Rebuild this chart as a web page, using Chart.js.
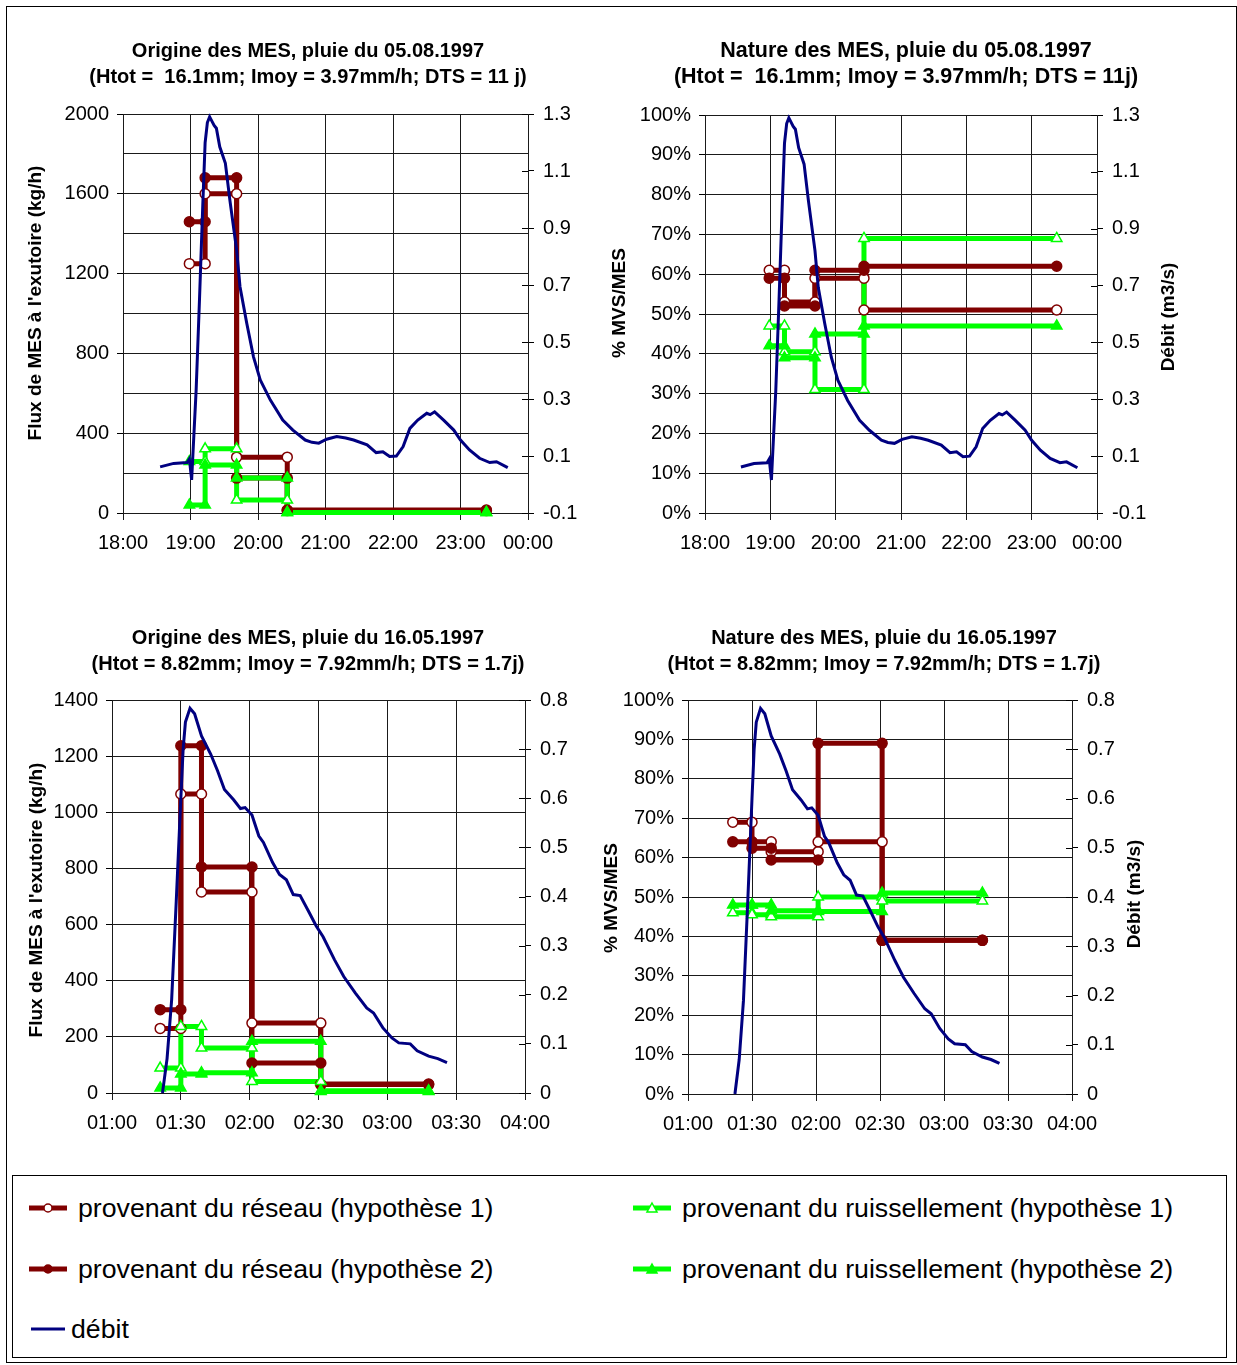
<!DOCTYPE html>
<html>
<head>
<meta charset="utf-8">
<script src="https://cdn.jsdelivr.net/npm/chart.js@4.4.1/dist/chart.umd.min.js"></script>
<style>
  body { margin: 0; width: 1237px; height: 1365px; background: #fff; position: relative;
         font-family: 'Liberation Sans', Arial, sans-serif; }
  #frame { position: absolute; left: 6px; top: 6px; width: 1231px; height: 1357px;
           border: 1px solid #000; box-sizing: border-box; }
  canvas { position: absolute; }
  #legend { position: absolute; left: 12px; top: 1175px; width: 1215px; height: 183px;
            border: 1px solid #000; box-sizing: border-box; }
  .item { position: absolute; display: flex; align-items: center; height: 40px;
          font-size: 26.7px; white-space: nowrap; color: #000; }
  .item span { margin-left: 11px; }
</style>
</head>
<body>
<div id="frame"></div>
<canvas id="c1" width="616" height="580" style="left:0px;top:0px"></canvas>
<canvas id="c2" width="612" height="580" style="left:600px;top:0px"></canvas>
<canvas id="c3" width="616" height="573" style="left:0px;top:587px"></canvas>
<canvas id="c4" width="584" height="573" style="left:592px;top:587px"></canvas>

<div id="legend">
  <div class="item" style="left:16px;top:12px">
    <svg width="38" height="14"><line x1="0" y1="7" x2="38" y2="7" stroke="#800000" stroke-width="5"/><circle cx="19" cy="7" r="4" fill="#fff" stroke="#800000" stroke-width="1.5"/></svg>
    <span>provenant du réseau (hypothèse 1)</span>
  </div>
  <div class="item" style="left:16px;top:73px">
    <svg width="38" height="14"><line x1="0" y1="7" x2="38" y2="7" stroke="#800000" stroke-width="5"/><circle cx="19" cy="7" r="4" fill="#800000" stroke="#800000" stroke-width="1.5"/></svg>
    <span>provenant du réseau (hypothèse 2)</span>
  </div>
  <div class="item" style="left:18px;top:133px">
    <svg width="34" height="14"><line x1="0" y1="7" x2="34" y2="7" stroke="#000080" stroke-width="3"/></svg>
    <span style="margin-left:6px">débit</span>
  </div>
  <div class="item" style="left:620px;top:12px">
    <svg width="38" height="14"><line x1="0" y1="7" x2="38" y2="7" stroke="#00ff00" stroke-width="5"/><polygon points="19,2 24,11 14,11" fill="#fff" stroke="#00ff00" stroke-width="1.5"/></svg>
    <span>provenant du ruissellement (hypothèse 1)</span>
  </div>
  <div class="item" style="left:620px;top:73px">
    <svg width="38" height="14"><line x1="0" y1="7" x2="38" y2="7" stroke="#00ff00" stroke-width="5"/><polygon points="19,2 24,11 14,11" fill="#00ff00" stroke="#00ff00" stroke-width="1.5"/></svg>
    <span>provenant du ruissellement (hypothèse 2)</span>
  </div>
</div>

<script>
// --- pluie du 05.08.1997 : bornes des intervalles d'hypothèse
const times1 = ['18:59', '19:13', '19:41', '20:26', '23:23'];
// origine des MES (kg/h)
const reseauH1_orig1 = [1250, 1600, 280, 15];
const reseauH2_orig1 = [1460, 1680, 175, 12];
const ruissH1_orig1 = [258, 322, 65, 3];
const ruissH2_orig1 = [40, 240, 175, 2];
// nature des MES (% MVS/MES)
const reseauH1_nat1 = [61, 53, 59, 51];
const reseauH2_nat1 = [59, 52, 61, 62];
const ruissH1_nat1 = [47, 40.5, 31, 69];
const ruissH2_nat1 = [42, 39, 45, 47];
// débit (m3/s)
const debit1 = [
  ['18:33', 0.062], ['18:45', 0.074], ['18:57', 0.077], ['18:59', 0.09], ['19:01', 0.016],
  ['19:05', 0.33], ['19:08', 0.65], ['19:11', 0.99], ['19:13', 1.2], ['19:15', 1.27],
  ['19:17', 1.29], ['19:19', 1.275], ['19:21', 1.26], ['19:23', 1.25], ['19:26', 1.185],
  ['19:31', 1.127], ['19:35', 0.998], ['19:41', 0.823], ['19:44', 0.694], ['19:50', 0.566],
  ['19:56', 0.448], ['20:02', 0.367], ['20:11', 0.296], ['20:22', 0.226], ['20:31', 0.191],
  ['20:42', 0.156], ['20:48', 0.148], ['20:54', 0.145], ['21:01', 0.159], ['21:10', 0.168],
  ['21:18', 0.163], ['21:25', 0.156], ['21:37', 0.139], ['21:45', 0.112], ['21:51', 0.115],
  ['21:57', 0.098], ['22:03', 0.1], ['22:09', 0.133], ['22:15', 0.197], ['22:22', 0.226],
  ['22:30', 0.25], ['22:33', 0.245], ['22:37', 0.255], ['22:45', 0.226], ['22:54', 0.191],
  ['23:00', 0.156], ['23:08', 0.121], ['23:17', 0.092], ['23:26', 0.077], ['23:32', 0.08],
  ['23:42', 0.059]
];

// --- pluie du 16.05.1997
const times2 = ['01:21', '01:30', '01:39', '02:01', '02:31', '03:18'];
const reseauH1_orig2 = [230, 1065, 716, 249, 30];
const reseauH2_orig2 = [297, 1237, 805, 107, 32];
const ruissH1_orig2 = [89, 237, 160, 41, 8];
const ruissH2_orig2 = [18, 68, 72, 184, 5];
const reseauH1_nat2 = [69, 64, 61.5, 64, 39];
const reseauH2_nat2 = [64, 62.4, 59.4, 89, 39];
const ruissH1_nat2 = [46, 45.5, 45, 50, 49];
const ruissH2_nat2 = [48, 48, 46.5, 46.3, 51];
const debit2 = [
  ['01:22', 0.0], ['01:24', 0.07], ['01:26', 0.19], ['01:28', 0.39], ['01:30', 0.6],
  ['01:31', 0.7], ['01:32', 0.755], ['01:34', 0.783], ['01:36', 0.772], ['01:39', 0.727],
  ['01:43', 0.69], ['01:46', 0.656], ['01:49', 0.618], ['01:53', 0.597], ['01:56', 0.579],
  ['01:58', 0.581], ['02:01', 0.566], ['02:04', 0.523], ['02:06', 0.51], ['02:10', 0.469],
  ['02:13', 0.445], ['02:16', 0.434], ['02:19', 0.404], ['02:22', 0.402], ['02:26', 0.367],
  ['02:29', 0.34], ['02:32', 0.318], ['02:37', 0.271], ['02:41', 0.237], ['02:46', 0.204],
  ['02:51', 0.173], ['02:54', 0.163], ['02:58', 0.133], ['03:02', 0.112], ['03:05', 0.102],
  ['03:10', 0.1], ['03:13', 0.086], ['03:18', 0.075], ['03:22', 0.07], ['03:26', 0.062]
];

const RED = '#800000';
const GREEN = '#00ff00';
const NAVY = '#000080';
const GRID = '#1a1a1a';
const FONT = "'Liberation Sans', Arial, sans-serif";

Chart.defaults.font.family = FONT;
Chart.defaults.font.size = 20;
Chart.defaults.color = '#000';

const toHours = (t) => {
  const [h, m] = t.split(':').map(Number);
  return h + m / 60;
};
const fmtTime = (v) => {
  const h = Math.floor(v + 1e-9);
  const m = Math.round((v - h) * 60);
  return String(h % 24).padStart(2, '0') + ':' + String(m).padStart(2, '0');
};

// one value per interval -> vertices of the step line
const stepPoints = (times, values) => {
  const pts = [];
  values.forEach((v, i) => {
    pts.push({ x: toHours(times[i]), y: v });
    pts.push({ x: toHours(times[i + 1]), y: v });
  });
  return pts;
};

// vertical axis titles (read bottom to top) + inner half of the right-axis ticks
const sideTitles = {
  id: 'sideTitles',
  afterDraw(chart, args, opts) {
    const ctx = chart.ctx;
    ctx.save();
    const y2 = chart.scales.y2;
    ctx.strokeStyle = '#000';
    ctx.lineWidth = 1;
    ctx.beginPath();
    for (const t of y2.ticks) {
      const py = Math.round(y2.getPixelForValue(t.value)) + 0.5;
      ctx.moveTo(chart.chartArea.right - 6, py);
      ctx.lineTo(chart.chartArea.right, py);
    }
    ctx.stroke();

    ctx.font = 'bold 19px ' + FONT;
    ctx.fillStyle = '#000';
    ctx.textAlign = 'center';
    ctx.textBaseline = 'middle';
    for (const t of opts.items || []) {
      ctx.save();
      ctx.translate(t.x, t.y);
      ctx.rotate(-Math.PI / 2);
      ctx.fillText(t.text, 0, 0);
      ctx.restore();
    }
    ctx.restore();
  }
};

function buildDatasets(times, r1, r2, s1, s2, debit) {
  const series = [
    { data: r1, color: RED, style: 'circle', open: true, radius: 5 },
    { data: r2, color: RED, style: 'circle', open: false, radius: 5 },
    { data: s1, color: GREEN, style: 'triangle', open: true, radius: 6 },
    { data: s2, color: GREEN, style: 'triangle', open: false, radius: 6 }
  ];
  const ds = [];
  ds.push({
    label: 'débit',
    data: debit.map(([t, v]) => ({ x: toHours(t), y: v })),
    yAxisID: 'y2',
    borderColor: NAVY,
    borderWidth: 3,
    pointRadius: 0,
    order: 0
  });
  series.forEach((s, i) => {
    const pts = stepPoints(times, s.data);
    // lines first (later series on top), markers above every line
    ds.push({
      data: pts,
      yAxisID: 'y',
      borderColor: s.color,
      borderWidth: 5,
      pointRadius: 0,
      order: 30 - i
    });
    ds.push({
      data: pts,
      yAxisID: 'y',
      showLine: false,
      pointStyle: s.style,
      pointRadius: s.radius,
      pointBorderWidth: 1.5,
      pointBorderColor: s.color,
      pointBackgroundColor: s.open ? '#fff' : s.color,
      order: 20 - i
    });
  });
  return ds;
}

function makePanel(id, p) {
  const canvas = document.getElementById(id);
  const left = parseFloat(canvas.style.left);
  const top = parseFloat(canvas.style.top);
  const leftW = p.area.l - left;
  const rightW = left + canvas.width - p.area.r;
  const titleGap = p.area.t - top - 38 - 52;
  const xH = top + canvas.height - p.area.b;

  new Chart(canvas.getContext('2d'), {
    type: 'line',
    data: { datasets: p.datasets },
    plugins: [sideTitles],
    options: {
      responsive: false,
      animation: false,
      devicePixelRatio: 1,
      clip: false,
      layout: { padding: { top: 38, left: 0, right: 0, bottom: 0 } },
      elements: { line: { tension: 0, borderJoinStyle: 'miter' } },
      plugins: {
        legend: { display: false },
        tooltip: { enabled: false },
        title: {
          display: true,
          text: p.title,
          color: '#000',
          font: { size: p.titleSize || 20, weight: 'bold', lineHeight: '26px' },
          padding: { top: 0, bottom: titleGap }
        },
        sideTitles: {
          items: p.axisTitles.map((t) => ({ text: t.text, x: t.x - left, y: t.y - top }))
        }
      },
      scales: {
        x: {
          type: 'linear',
          min: p.xMin,
          max: p.xMax,
          afterFit: (s) => { s.height = xH; },
          ticks: { stepSize: p.xStep, padding: 11, maxRotation: 0, callback: fmtTime },
          grid: { color: GRID, tickLength: 7 },
          border: { color: GRID }
        },
        y: {
          position: 'left',
          min: p.yMin,
          max: p.yMax,
          afterFit: (s) => { s.width = leftW; },
          ticks: { stepSize: p.yStep, padding: 8, callback: p.yLabel },
          grid: {
            color: GRID,
            tickLength: 6,
            tickColor: (ctx) => (ctx.tick && p.yLabel(ctx.tick.value) !== '' ? '#000' : 'rgba(0,0,0,0)')
          },
          border: { color: GRID }
        },
        y2: {
          position: 'right',
          min: p.y2Min,
          max: p.y2Max,
          afterFit: (s) => { s.width = rightW; },
          ticks: {
            stepSize: p.y2Step,
            padding: 9,
            callback: (v) => (Math.abs(v) < 1e-9 ? '0' : String(Math.round(v * 10) / 10))
          },
          grid: { drawOnChartArea: false, color: '#000', tickLength: 6 },
          border: { color: GRID }
        }
      }
    }
  });
}

const flux1Label = (v) => (v % 400 === 0 ? String(v) : '');
const fluxLabel = (v) => String(v);
const pctLabel = (v) => Math.round(v) + '%';

makePanel('c1', {
  title: ['Origine des MES, pluie du 05.08.1997', '(Htot =  16.1mm; Imoy = 3.97mm/h; DTS = 11 j)'],
  area: { l: 123, r: 528, t: 114, b: 513 },
  xMin: 18, xMax: 24, xStep: 1,
  yMin: 0, yMax: 2000, yStep: 200, yLabel: flux1Label,
  y2Min: -0.1, y2Max: 1.3, y2Step: 0.2,
  axisTitles: [{ text: "Flux de MES à l'exutoire (kg/h)", x: 36, y: 303 }],
  datasets: buildDatasets(times1, reseauH1_orig1, reseauH2_orig1, ruissH1_orig1, ruissH2_orig1, debit1)
});

makePanel('c2', {
  title: ['Nature des MES, pluie du 05.08.1997', '(Htot =  16.1mm; Imoy = 3.97mm/h; DTS = 11j)'],
  titleSize: 21.5,
  area: { l: 705, r: 1097, t: 115, b: 513 },
  xMin: 18, xMax: 24, xStep: 1,
  yMin: 0, yMax: 100, yStep: 10, yLabel: pctLabel,
  y2Min: -0.1, y2Max: 1.3, y2Step: 0.2,
  axisTitles: [
    { text: '% MVS/MES', x: 620, y: 303 },
    { text: 'Débit (m3/s)', x: 1169, y: 317 }
  ],
  datasets: buildDatasets(times1, reseauH1_nat1, reseauH2_nat1, ruissH1_nat1, ruissH2_nat1, debit1)
});

makePanel('c3', {
  title: ['Origine des MES, pluie du 16.05.1997', '(Htot = 8.82mm; Imoy = 7.92mm/h; DTS = 1.7j)'],
  area: { l: 112, r: 525, t: 700, b: 1093 },
  xMin: 1, xMax: 4, xStep: 0.5,
  yMin: 0, yMax: 1400, yStep: 200, yLabel: fluxLabel,
  y2Min: 0, y2Max: 0.8, y2Step: 0.1,
  axisTitles: [{ text: "Flux de MES à l'exutoire (kg/h)", x: 37, y: 900 }],
  datasets: buildDatasets(times2, reseauH1_orig2, reseauH2_orig2, ruissH1_orig2, ruissH2_orig2, debit2)
});

makePanel('c4', {
  title: ['Nature des MES, pluie du 16.05.1997', '(Htot = 8.82mm; Imoy = 7.92mm/h; DTS = 1.7j)'],
  area: { l: 688, r: 1072, t: 700, b: 1094 },
  xMin: 1, xMax: 4, xStep: 0.5,
  yMin: 0, yMax: 100, yStep: 10, yLabel: pctLabel,
  y2Min: 0, y2Max: 0.8, y2Step: 0.1,
  axisTitles: [
    { text: '% MVS/MES', x: 612, y: 898 },
    { text: 'Débit (m3/s)', x: 1135, y: 894 }
  ],
  datasets: buildDatasets(times2, reseauH1_nat2, reseauH2_nat2, ruissH1_nat2, ruissH2_nat2, debit2)
});
</script>
</body>
</html>
